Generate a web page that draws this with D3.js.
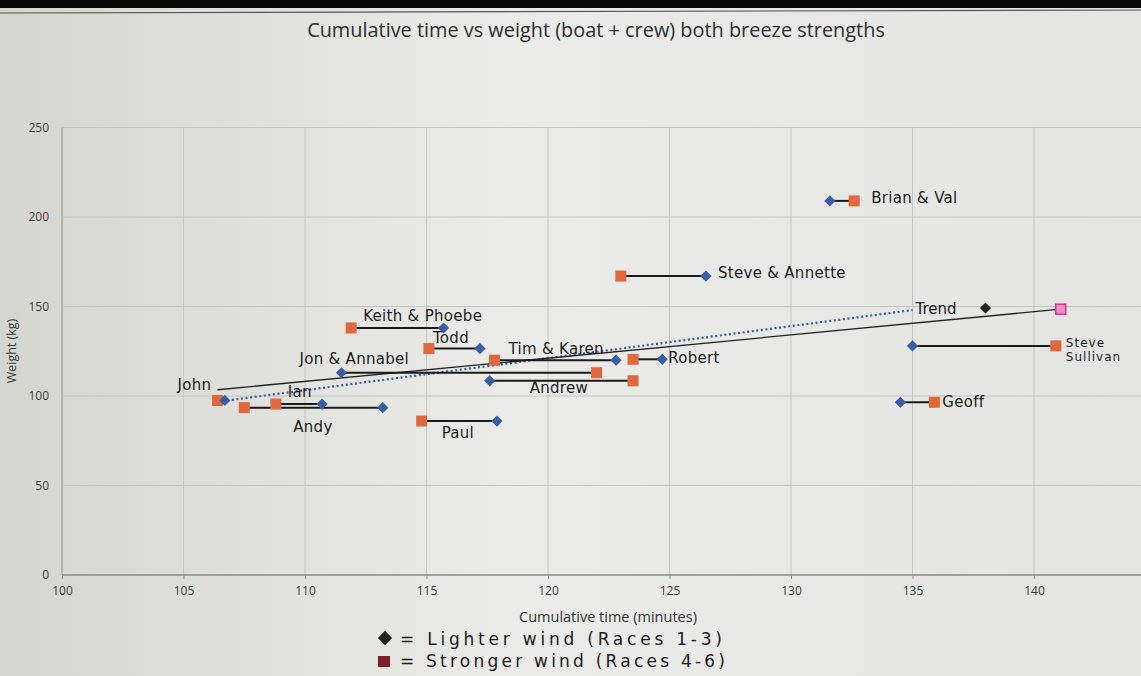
<!DOCTYPE html>
<html>
<head>
<meta charset="utf-8">
<script src="https://cdn.jsdelivr.net/npm/d3@7/dist/d3.min.js"></script>
<style>
  html, body { margin: 0; padding: 0; background: #e6e6e3; }
  svg { display: block; }
</style>
</head>
<body>
<div id="chart"></div>
<script>
// ===== data =====
var crews = ["John", "Andy", "Ian", "Jon & Annabel", "Keith & Phoebe", "Todd", "Tim & Karen",
             "Andrew", "Robert", "Paul", "Steve & Annette", "Brian & Val", "Steve Sullivan", "Geoff"];
var lighterTime  = [106.7, 113.2, 110.7, 111.5, 115.7, 117.2, 122.8, 117.6, 124.7, 117.9, 126.5, 131.6, 135.0, 134.5];
var strongerTime = [106.4, 107.5, 108.8, 122.0, 111.9, 115.1, 117.8, 123.5, 123.5, 114.8, 123.0, 132.6, 140.9, 135.9];
var weight       = [97.5, 93.5, 95.5, 113, 138, 126.5, 120, 108.5, 120.5, 86, 167, 209, 128, 96.5];

// trend lines (dotted = lighter wind, solid = hand drawn stronger wind)
var trendLighter  = [[106.8, 97.5], [135.0, 148]];
var trendStronger = [[106.4, 103.5], [141.1, 148.5]];

var xTicks = [100, 105, 110, 115, 120, 125, 130, 135, 140, 145];
var yTicks = [0, 50, 100, 150, 200, 250];

// label placement (layout only): side of the pair to hang from, and [dx, dy] in pixels
var labelSide = ["L", "L", "L", "L", "L", "L", "L", "L", "R", "L", "R", "R", "R", "R"];
var labelOffsets = [[-40, -10], [49, 24], [12, -7], [-42, -9], [12, -7], [4, -6], [14, -6],
                    [40, 12], [6, 4], [20, 17], [12, 2], [17, 2], [10, 3], [8, 5]];

// ===== chart =====
var width = 1141, height = 676;
var svg = d3.select("#chart").append("svg")
    .attr("width", width)
    .attr("height", height)
    .style("font-family", "'Open Sans', Lato, sans-serif");

// paper background
var grad = svg.append("defs").append("linearGradient").attr("id", "paper");
grad.append("stop").attr("offset", "0%").attr("stop-color", "#d6d6d0");
grad.append("stop").attr("offset", "45%").attr("stop-color", "#ebebe9");
grad.append("stop").attr("offset", "100%").attr("stop-color", "#e4e4e2");
svg.append("rect").attr("width", width).attr("height", height).attr("fill", "url(#paper)");
svg.append("rect").attr("width", width).attr("height", 8).attr("fill", "#0a0a0a");
svg.append("line").attr("x1", 0).attr("y1", 13).attr("x2", width).attr("y2", 10)
    .attr("stroke", "#555").attr("stroke-width", 1.2);

var x = d3.scaleLinear().domain([100, 145]).range([62, 1155.5]);
var y = d3.scaleLinear().domain([0, 250]).range([575, 127.5]);

// grid
svg.append("g").selectAll("line").data(xTicks).enter().append("line")
    .attr("x1", function(d) { return x(d); }).attr("x2", function(d) { return x(d); })
    .attr("y1", y(250)).attr("y2", y(0))
    .attr("stroke", function(d) { return d === 100 ? "#8a8a86" : "#c4c4c0"; })
    .attr("stroke-width", 1);
svg.append("g").selectAll("line").data(yTicks).enter().append("line")
    .attr("x1", x(100)).attr("x2", x(145))
    .attr("y1", function(d) { return y(d); }).attr("y2", function(d) { return y(d); })
    .attr("stroke", function(d) { return d === 0 ? "#8a8a86" : "#c4c4c0"; })
    .attr("stroke-width", function(d) { return d === 0 ? 1.5 : 1; });

// axes (labels only)
var xAxis = svg.append("g").attr("transform", "translate(0," + y(0) + ")")
    .call(d3.axisBottom(x).tickValues(xTicks.slice(0, 9)).tickSize(4).tickFormat(d3.format("d")));
var yAxis = svg.append("g").attr("transform", "translate(" + x(100) + ",0)")
    .call(d3.axisLeft(y).tickValues(yTicks).tickSize(0).tickPadding(13));
[xAxis, yAxis].forEach(function(a) {
    a.select(".domain").remove();
    a.selectAll("line").attr("stroke", "#8a8a86");
    a.selectAll("text").attr("fill", "#3a3a3a").style("font-size", "12px")
        .style("font-family", "'Open Sans', sans-serif");
});
xAxis.selectAll("text").attr("dy", "1.1em");

// titles
svg.append("text").attr("x", 596).attr("y", 37).attr("text-anchor", "middle")
    .attr("fill", "#2e2e2e").style("font-size", "19.9px")
    .text("Cumulative time vs weight (boat + crew) both breeze strengths");
svg.append("text").attr("x", 608).attr("y", 622).attr("text-anchor", "middle")
    .attr("fill", "#333").style("font-size", "14.5px").text("Cumulative time (minutes)");
svg.append("text").attr("transform", "translate(16,351) rotate(-90)").attr("text-anchor", "middle")
    .attr("fill", "#333").style("font-size", "12.5px").text("Weight (kg)");

// trend lines
var line = d3.line().x(function(d) { return x(d[0]); }).y(function(d) { return y(d[1]); });
svg.append("path").datum(trendLighter).attr("d", line)
    .attr("fill", "none").attr("stroke", "#3b5a9e").attr("stroke-width", 2.2)
    .attr("stroke-dasharray", "2,2.6");
svg.append("path").datum(trendStronger).attr("d", line)
    .attr("fill", "none").attr("stroke", "#222").attr("stroke-width", 1.3);

// connectors
svg.append("g").selectAll("line").data(crews).enter().append("line")
    .attr("x1", function(d, i) { return x(lighterTime[i]); })
    .attr("x2", function(d, i) { return x(strongerTime[i]); })
    .attr("y1", function(d, i) { return y(weight[i]); })
    .attr("y2", function(d, i) { return y(weight[i]); })
    .attr("stroke", "#1a1a1a").attr("stroke-width", 2);

// stronger wind squares
svg.append("g").selectAll("rect").data(crews).enter().append("rect")
    .attr("x", function(d, i) { return x(strongerTime[i]) - 5.5; })
    .attr("y", function(d, i) { return y(weight[i]) - 5.5; })
    .attr("width", 11).attr("height", 11)
    .attr("fill", "#e2673f");

// lighter wind diamonds
svg.append("g").selectAll("path").data(crews).enter().append("path")
    .attr("d", d3.symbol().type(d3.symbolDiamond2).size(80))
    .attr("transform", function(d, i) {
        return "translate(" + x(lighterTime[i]) + "," + y(weight[i]) + ")";
    })
    .attr("fill", "#3a5ea6");

// hand-written crew names
var labels = svg.append("g").attr("fill", "#1c1c1c").style("font-size", "15px")
    .style("font-family", "'DejaVu Sans', sans-serif").style("letter-spacing", "0.3px");
crews.forEach(function(name, i) {
    var t0 = labelSide[i] === "L" ? Math.min(lighterTime[i], strongerTime[i])
                                  : Math.max(lighterTime[i], strongerTime[i]);
    var px = x(t0) + labelOffsets[i][0];
    var py = y(weight[i]) + labelOffsets[i][1];
    if (name === "Steve Sullivan") {
        // written on two lines in the picture
        labels.append("text").attr("x", px).attr("y", py - 2).style("font-size", "12px")
            .style("letter-spacing", "1px").text("Steve");
        labels.append("text").attr("x", px).attr("y", py + 12).style("font-size", "12px")
            .style("letter-spacing", "1px").text("Sullivan");
        return;
    }
    labels.append("text").attr("x", px).attr("y", py).text(name);
});

// trend label + pink end marker
svg.append("text").attr("x", x(trendLighter[1][0]) + 3).attr("y", y(trendLighter[1][1]) + 4)
    .attr("fill", "#1c1c1c").style("font-size", "15px")
    .style("font-family", "'DejaVu Sans', sans-serif").text("Trend");
svg.append("path").attr("d", d3.symbol().type(d3.symbolDiamond2).size(80))
    .attr("transform", "translate(" + (x(trendLighter[1][0]) + 73) + "," + (y(trendLighter[1][1]) - 2) + ")")
    .attr("fill", "#222");
svg.append("rect")
    .attr("x", x(trendStronger[1][0]) - 5).attr("y", y(trendStronger[1][1]) - 5)
    .attr("width", 10).attr("height", 10)
    .attr("fill", "#e88fc6").attr("stroke", "#d8309a").attr("stroke-width", 1.5);

// hand-written legend
var legend = svg.append("g").style("font-family", "'DejaVu Sans', sans-serif")
    .style("font-size", "17px").attr("fill", "#1c1c1c");
legend.append("path").attr("d", d3.symbol().type(d3.symbolDiamond2).size(130))
    .attr("transform", "translate(385,638)").attr("fill", "#222");
legend.append("text").attr("x", 400).attr("y", 645)
    .attr("textLength", 322).attr("lengthAdjust", "spacing").text("= Lighter wind (Races 1-3)");
legend.append("rect").attr("x", 378).attr("y", 656).attr("width", 12).attr("height", 11)
    .attr("fill", "#7e1d2c");
legend.append("text").attr("x", 400).attr("y", 667)
    .attr("textLength", 325).attr("lengthAdjust", "spacing").text("= Stronger wind (Races 4-6)");
</script>
</body>
</html>
